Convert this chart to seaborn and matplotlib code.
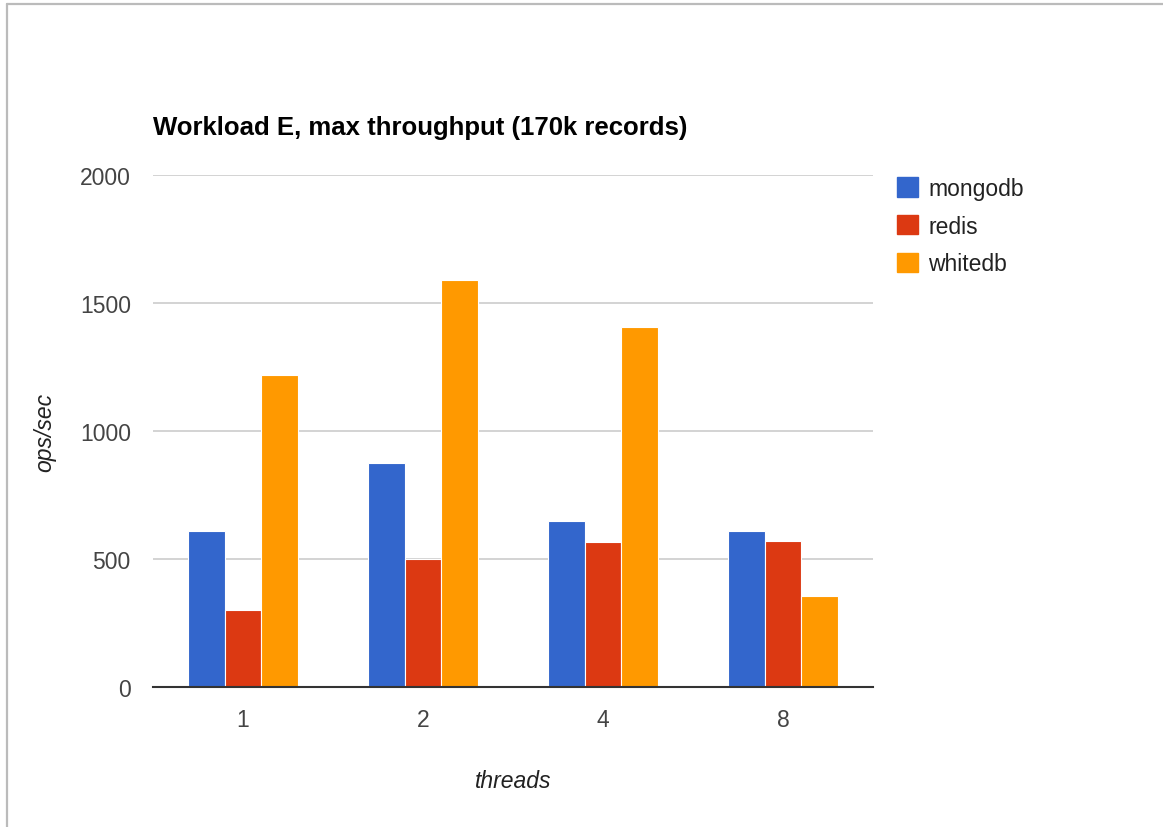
import matplotlib
matplotlib.use("Agg")
import matplotlib.pyplot as plt
from matplotlib.lines import Line2D
from matplotlib.patches import Patch
import seaborn as sns
import pandas as pd

# Benchmark results: max throughput for workload E (ops/sec)
threads = ["1", "2", "4", "8"]
databases = ["mongodb", "redis", "whitedb"]
mongodb = [609, 875, 648, 609]
redis = [301, 500, 566, 570]
whitedb = [1219, 1590, 1406, 355]
y_ticks = [0, 500, 1000, 1500, 2000]

colors = {"mongodb": "#3366CC", "redis": "#DC3912", "whitedb": "#FF9900"}

df = pd.DataFrame({
    "threads": threads * 3,
    "database": ["mongodb"] * 4 + ["redis"] * 4 + ["whitedb"] * 4,
    "ops": mongodb + redis + whitedb,
})

sns.set_theme(style="white")
plt.rcParams["font.family"] = ["Liberation Sans", "DejaVu Sans"]

W, H = 1163, 828
fig = plt.figure(figsize=(W / 100, H / 100), dpi=100)
ax = fig.add_axes([153 / W, (H - 688) / H, 720 / W, 512 / H])

sns.barplot(data=df, x="threads", y="ops", hue="database", order=threads,
            hue_order=databases, palette=colors, width=0.615,
            edgecolor="white", linewidth=0.8, saturation=1, ax=ax, zorder=3)

ax.set_ylim(0, 2000)
ax.set_xlim(-0.5, len(threads) - 0.5)
ax.set_yticks(y_ticks)
ax.set_yticklabels([str(v) for v in y_ticks])
ax.yaxis.grid(True, color="#CCCCCC", linewidth=1.2, zorder=0)
ax.set_axisbelow(True)
for side in ("top", "right", "left"):
    ax.spines[side].set_visible(False)
ax.spines["bottom"].set_color("#333333")
ax.spines["bottom"].set_linewidth(1.5)
ax.spines["bottom"].set_zorder(4)
ax.tick_params(axis="both", length=0, labelsize=16.5, labelcolor="#444444")
ax.tick_params(axis="y", pad=16)
ax.tick_params(axis="x", pad=15)

ax.set_xlabel("threads", fontsize=16.5, style="italic", color="#222222", va="center")
ax.set_ylabel("ops/sec", fontsize=16.5, style="italic", color="#222222", va="center")
ax.xaxis.set_label_coords(0.5, (688 - 782) / 512)
ax.yaxis.set_label_coords((45 - 153) / 720, 0.5)

fig.text(153 / W, 1 - 128 / H, "Workload E, max throughput (170k records)",
         fontsize=18.5, fontweight="bold", color="#000000", ha="left", va="center")

if ax.get_legend() is not None:
    ax.get_legend().remove()
handles = [Patch(facecolor=colors[d], edgecolor=colors[d]) for d in databases]
fig.legend(handles, databases, loc="upper left",
           bbox_to_anchor=(897 / W, 1 - 178 / H), frameon=False,
           fontsize=16.5, labelcolor="#222222", handlelength=0.92,
           handleheight=0.92, handletextpad=0.45, labelspacing=0.64,
           borderaxespad=0, borderpad=0)

# Thin frame on the top and left edges
fig.add_artist(Line2D([6.5 / W, 1], [1 - 4.5 / H, 1 - 4.5 / H], color="#BBBBBB",
                      linewidth=1.6, transform=fig.transFigure))
fig.add_artist(Line2D([6.5 / W, 6.5 / W], [0, 1 - 4.5 / H], color="#BBBBBB",
                      linewidth=1.6, transform=fig.transFigure))

fig.savefig("out.png", dpi=100, facecolor="white")
